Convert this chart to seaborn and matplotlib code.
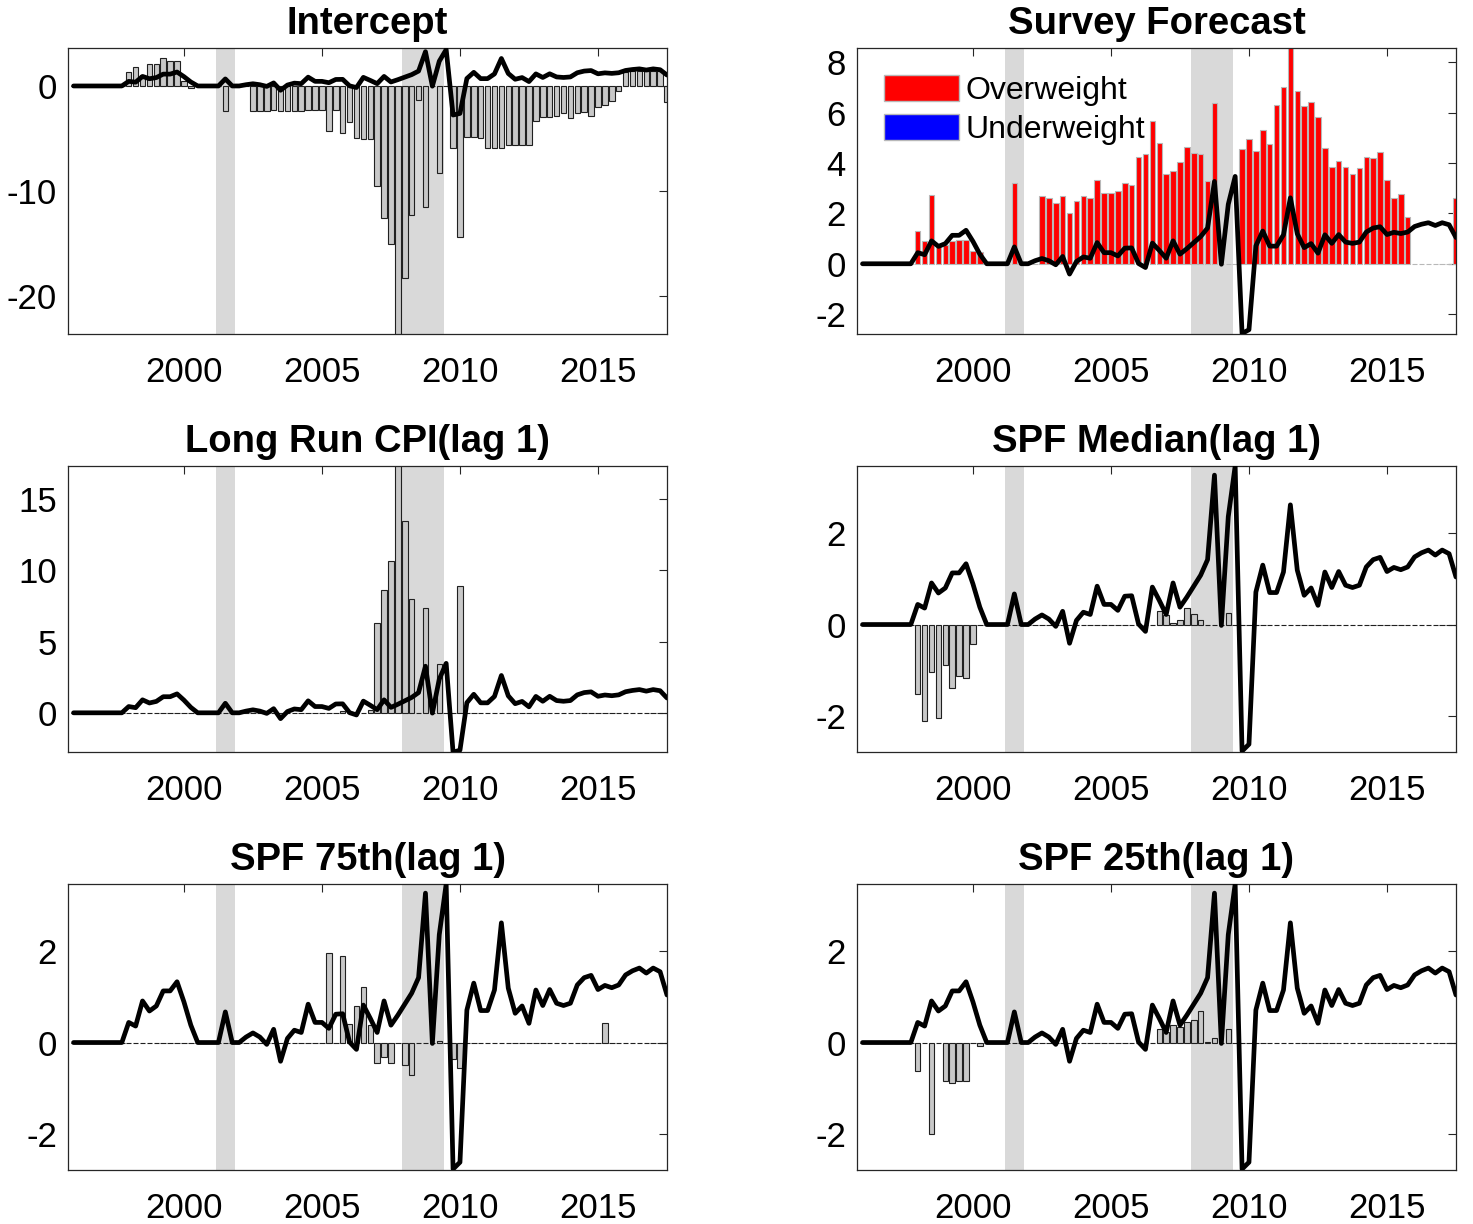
import numpy as np
import matplotlib
matplotlib.use("Agg")
import matplotlib.pyplot as plt
import seaborn as sns
from matplotlib.patches import Patch

# quarterly dates 1996Q1 .. 2017Q3
quarters = np.arange(1996.0, 2017.75, 0.25)

# black line (same series in every panel)
line_vals = [0, 0, 0, 0, 0, 0, 0, 0,
             0.44, 0.36, 0.91, 0.69, 0.80, 1.13, 1.13, 1.33,
             0.89, 0.38, 0, 0, 0, 0, 0.67, 0,
             0, 0.12, 0.21, 0.12, -0.04, 0.29, -0.41, 0.09,
             0.27, 0.22, 0.84, 0.44, 0.44, 0.31, 0.62, 0.63,
             0.01, -0.15, 0.82, 0.53, 0.22, 0.91, 0.38, 0.60,
             0.84, 1.08, 1.42, 3.27, -0.02, 2.36, 3.47, -2.77,
             -2.62, 0.71, 1.30, 0.70, 0.70, 1.15, 2.62, 1.19,
             0.64, 0.80, 0.42, 1.15, 0.81, 1.16, 0.86, 0.81,
             0.86, 1.26, 1.42, 1.47, 1.16, 1.25, 1.20, 1.26,
             1.48, 1.57, 1.63, 1.52, 1.63, 1.55, 1.04]

intercept = [0, 0, 0, 0, 0, 0, 0, 0,
             1.35, 1.83, 1.0, 2.05, 2.08, 2.63, 2.37, 2.4,
             0.48, -0.19, 0, 0, 0, 0, -2.43, 0,
             0, 0, -2.43, -2.43, -2.43, -2.3, -2.35, -2.35,
             -2.35, -2.35, -2.3, -2.3, -2.3, -4.33, -2.3, -4.5,
             -3.46, -4.97, -5.1, -5.1, -9.55, -12.6, -15.06, -24.5,
             -18.3, -12.3, -1.38, -11.5, 0, -8.3, 0, -5.93,
             -14.36, -4.9, -4.9, -4.97, -5.96, -5.87, -5.96, -5.6,
             -5.6, -5.6, -5.6, -3.37, -2.98, -2.92, -2.82, -2.6,
             -3.04, -2.6, -2.5, -2.88, -2.02, -1.86, -1.47, -0.51,
             1.35, 1.41, 1.41, 1.44, 1.44, 1.44, -1.54]

survey = [0, 0, 0, 0, 0, 0, 0, 0,
          1.32, 0.92, 2.73, 0.72, 0.76, 0.89, 0.96, 0.96,
          0.5, 0.45, 0, 0, 0, 0, 3.19, 0,
          0, 0, 2.71, 2.61, 2.4, 2.71, 2.0, 2.49,
          2.71, 2.61, 3.31, 2.8, 2.8, 2.89, 3.21, 3.11,
          4.25, 4.35, 5.69, 4.79, 3.57, 3.68, 4.04, 4.65,
          4.39, 4.35, 3.28, 6.4, 0, 0, 0, 4.56,
          4.96, 4.49, 5.32, 4.75, 6.29, 7.01, 8.8, 6.88,
          6.25, 6.41, 5.81, 4.59, 3.85, 4.09, 3.83, 3.55,
          3.79, 4.23, 4.19, 4.43, 3.32, 2.63, 2.79, 1.85,
          0, 0, 0, 0, 0, 0, 2.63]

lr_cpi = [0, 0, 0, 0, 0, 0, 0, 0,
          0, 0, 0, 0, 0, 0, 0, 0,
          0, 0, 0, 0, 0, 0, 0, 0,
          0, 0, 0, 0, 0, 0, 0, 0,
          0, 0, 0, 0, 0, 0, 0, 0.15,
          0, 0, 0, 0.2, 6.28, 8.65, 10.66, 17.6,
          13.46, 8.0, 0, 7.37, 0, 3.46, 0, 0,
          8.9, 0, 0, 0, 0, 0, 0, 0,
          0, 0, 0, 0, 0, 0, 0, 0,
          0, 0, 0, 0, 0, 0, 0, 0,
          0, 0, 0, 0, 0, 0, 0]

spf_median = [0, 0, 0, 0, 0, 0, 0, 0,
              -1.52, -2.11, -1.03, -2.04, -0.88, -1.38, -1.12, -1.16,
              -0.42, 0, 0, 0, 0, 0, 0, 0,
              0, 0, 0, 0, 0, 0, 0, 0,
              0, 0, 0, 0, 0, 0, 0, 0,
              0, 0, 0, 0.29, 0.2, 0.03, 0.1, 0.37,
              0.23, 0.1, 0, 0, 0, 0.25, 0, 0,
              0, 0, 0, 0, 0, 0, 0, 0,
              0, 0, 0, 0, 0, 0, 0, 0,
              0, 0, 0, 0, 0, 0, 0, 0,
              0, 0, 0, 0, 0, 0, 0]

spf_75 = [0, 0, 0, 0, 0, 0, 0, 0,
          0, 0, 0, 0, 0, 0, 0, 0,
          0, 0, 0, 0, 0, 0, 0, 0,
          0, 0, 0, 0, 0, 0, 0, 0,
          0, 0, 0, 0, 0, 1.95, 0, 1.89,
          0.41, 0.79, 1.22, 0.39, -0.44, -0.31, -0.44, 0,
          -0.49, -0.71, 0, 0, 0, 0.03, 0, -0.36,
          -0.56, 0, 0, 0, 0, 0, 0, 0,
          0, 0, 0, 0, 0, 0, 0, 0,
          0, 0, 0, 0, 0, 0.42, 0, 0,
          0, 0, 0, 0, 0, 0, 0]

spf_25 = [0, 0, 0, 0, 0, 0, 0, 0,
          -0.63, 0, -2.01, 0, -0.84, -0.89, -0.84, -0.84,
          0, -0.07, 0, 0, 0, 0, 0, 0,
          0, 0, 0, 0, 0, 0, 0, 0,
          0, 0, 0, 0, 0, 0, 0, 0,
          0, 0, 0, 0.29, 0.24, 0.39, 0.35, 0.46,
          0.49, 0.69, 0.01, 0.11, 0, 0.30, 0, 0,
          0, 0, 0, 0, 0, 0, 0, 0,
          0, 0, 0, 0, 0, 0, 0, 0,
          0, 0, 0, 0, 0, 0, 0, 0,
          0, 0, 0, 0, 0, 0, 0]

recessions = [(2001.167, 2001.833), (2007.917, 2009.417)]

titles = ["Intercept", "Survey Forecast", "Long Run CPI(lag 1)",
          "SPF Median(lag 1)", "SPF 75th(lag 1)", "SPF 25th(lag 1)"]
bar_data = [intercept, survey, lr_cpi, spf_median, spf_75, spf_25]
y_limits = [(-23.65, 3.62), (-2.79, 8.57), (-2.75, 17.32),
            (-2.79, 3.47), (-2.79, 3.47), (-2.79, 3.47)]
y_ticks = [[-20, -10, 0], [-2, 0, 2, 4, 6, 8], [0, 5, 10, 15],
           [-2, 0, 2], [-2, 0, 2], [-2, 0, 2]]

sns.set_style("white")
plt.rcParams['font.family'] = ['Liberation Sans', 'DejaVu Sans']
plt.rcParams['axes.unicode_minus'] = False
plt.rcParams['text.color'] = 'black'

W, H = 1473, 1224
fig = plt.figure(figsize=(W / 100, H / 100), dpi=100)

col_left = [68, 857]
row_top = [48, 466, 884]

for k, name in enumerate(titles):
    r, c = divmod(k, 2)
    ax = fig.add_axes([col_left[c] / W, 1 - (row_top[r] + 286) / H, 599 / W, 286 / H])

    for a, b in recessions:
        ax.axvspan(a, b, color='#d9d9d9', lw=0, zorder=0)

    if name == "Survey Forecast":
        sns.barplot(x=quarters, y=bar_data[k], native_scale=True, width=0.8,
                    color='#ff0000', edgecolor='#b8b8b8', linewidth=0.8,
                    saturation=1, errorbar=None, ax=ax, zorder=2)
    else:
        sns.barplot(x=quarters, y=bar_data[k], native_scale=True, width=0.8,
                    color='#c8c8c8', edgecolor='#202020', linewidth=0.8,
                    saturation=1, errorbar=None, ax=ax, zorder=2)

    sns.lineplot(x=quarters, y=line_vals, color='black', linewidth=3.4, ax=ax,
                 zorder=4, solid_joinstyle='round', solid_capstyle='round')

    ax.set_xlim(1995.8, 2017.5)
    ax.set_ylim(*y_limits[k])
    ax.set_xticks([2000, 2005, 2010, 2015])
    ax.set_yticks(y_ticks[k])
    ax.set_xlabel('')
    ax.set_ylabel('')
    ax.tick_params(direction='in', length=6, width=0.8, top=True, right=True,
                   labelsize=25, color='#262626', labelcolor='black')
    ax.tick_params(axis='x', pad=16)
    ax.tick_params(axis='y', pad=8)
    for s in ax.spines.values():
        s.set_linewidth(0.9)
        s.set_color('#262626')
    ax.set_title(name, fontsize=27.5, fontweight='bold', color='black', pad=10)

    if name == "Survey Forecast":
        handles = [Patch(facecolor='#ff0000', edgecolor='#b8b8b8', label='Overweight'),
                   Patch(facecolor='#0000ff', edgecolor='#b8b8b8', label='Underweight')]
        ax.legend(handles=handles, loc='upper left', bbox_to_anchor=(0.045, 0.905),
                  frameon=False, fontsize=23, handlelength=2.35, handleheight=0.88,
                  handletextpad=0.2, labelspacing=0.25, borderaxespad=0, borderpad=0)

fig.savefig('out.png', dpi=100)
